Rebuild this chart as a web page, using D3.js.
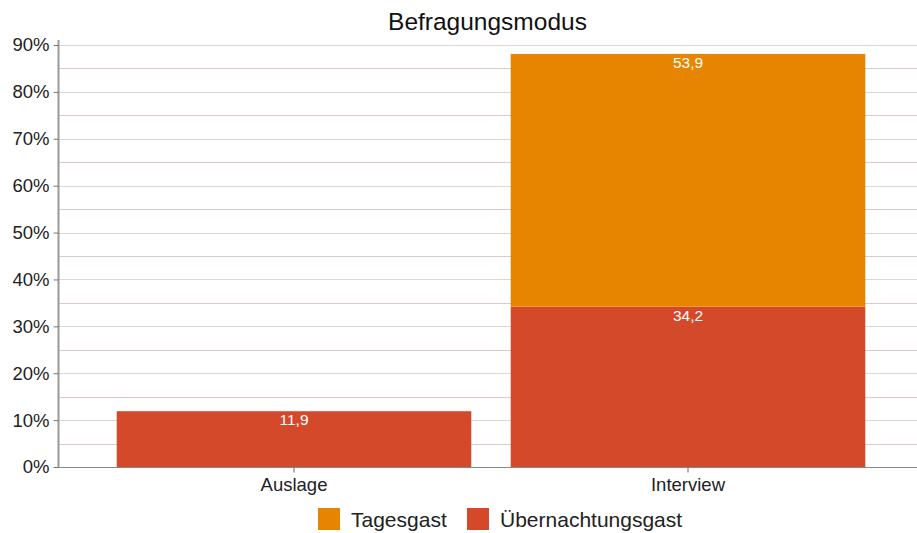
<!DOCTYPE html>
<html>
<head>
<meta charset="utf-8">
<script src="https://cdn.jsdelivr.net/npm/d3@7"></script>
<style>
  body { margin: 0; background: #fff; }
  svg { display: block; font-family: "Liberation Sans", Arial, sans-serif; }
</style>
</head>
<body>
<svg id="chart"></svg>
<script>
const categories = ["Auslage", "Interview"];
const seriesNames = ["Übernachtungsgast", "Tagesgast"];
const uebernachtung = [11.9, 34.2];
const tagesgast = [0, 53.9];
const yTicks = [0, 10, 20, 30, 40, 50, 60, 70, 80, 90];
const legendOrder = ["Tagesgast", "Übernachtungsgast"];
const colors = { "Tagesgast": "#e88500", "Übernachtungsgast": "#d5492b" };

const width = 917, height = 533;
const margin = { top: 40, right: 0, bottom: 66, left: 58 };

const svg = d3.select("#chart").attr("width", width).attr("height", height);

const rows = categories.map((c, i) => ({
  cat: c,
  "Übernachtungsgast": uebernachtung[i],
  "Tagesgast": tagesgast[i]
}));
const stacked = d3.stack().keys(seriesNames)(rows);

const y = d3.scaleLinear().domain([0, 90]).range([467, 45]);
const x = d3.scaleBand().domain(categories).range([97, 885]).paddingInner(0.1).paddingOuter(0.05);

// grid, minor every 5%
const grid = svg.append("g");
d3.range(5, 95, 5).forEach(v => {
  grid.append("line")
    .attr("x1", margin.left).attr("x2", width)
    .attr("y1", Math.round(y(v)) + 0.5).attr("y2", Math.round(y(v)) + 0.5)
    .attr("stroke", v % 10 === 0 ? "#e2d3d5" : "#dcc9cb")
    .attr("stroke-width", 1);
});

// bars
stacked.forEach(s => {
  svg.append("g").selectAll("rect")
    .data(s.filter(d => d[1] - d[0] > 0))
    .join("rect")
    .attr("x", d => x(d.data.cat))
    .attr("width", x.bandwidth())
    .attr("y", d => y(d[1]))
    .attr("height", d => y(d[0]) - y(d[1]))
    .attr("fill", colors[s.key]);

  svg.append("g").selectAll("text")
    .data(s.filter(d => d[1] - d[0] > 0))
    .join("text")
    .attr("x", d => x(d.data.cat) + x.bandwidth() / 2)
    .attr("y", d => y(d[1]) + 14)
    .attr("text-anchor", "middle")
    .attr("fill", "#fff")
    .attr("font-size", 15.5)
    .text(d => d3.format(".1f")(d[1] - d[0]).replace(".", ","));
});

// y axis
const yAxis = svg.append("g")
  .attr("transform", `translate(${margin.left + 0.5},0)`)
  .call(d3.axisLeft(y).tickValues(yTicks).tickFormat(d => d + "%").tickSize(5).tickSizeOuter(0));
yAxis.select(".domain").attr("stroke", "#9a9a9a").attr("stroke-width", 2).attr("d", "M0,40V467");
yAxis.selectAll(".tick line").attr("stroke", "#777");
yAxis.selectAll(".tick text").attr("font-size", 18.5).attr("fill", "#222").attr("dx", "-1");

// x axis
const xAxis = svg.append("g")
  .attr("transform", `translate(0,${467.5})`)
  .call(d3.axisBottom(x).tickSize(5).tickSizeOuter(0));
xAxis.select(".domain").attr("stroke", "#888").attr("d", `M${margin.left},0H${width}`);
xAxis.selectAll(".tick line").attr("stroke", "#666");
xAxis.selectAll(".tick text").attr("font-size", 18.5).attr("fill", "#222").attr("dy", "0.85em");

// title
svg.append("text")
  .attr("x", (margin.left + width) / 2).attr("y", 30)
  .attr("text-anchor", "middle").attr("font-size", 24.5).attr("fill", "#111")
  .text("Befragungsmodus");

// legend
const legend = svg.append("g");
const lx = [318, 467];
legendOrder.forEach((k, i) => {
  legend.append("rect").attr("x", lx[i]).attr("y", 508).attr("width", 22).attr("height", 22).attr("fill", colors[k]);
  legend.append("text").attr("x", lx[i] + 33).attr("y", 527).attr("font-size", 21).attr("fill", "#222").text(k);
});
</script>
</body>
</html>
